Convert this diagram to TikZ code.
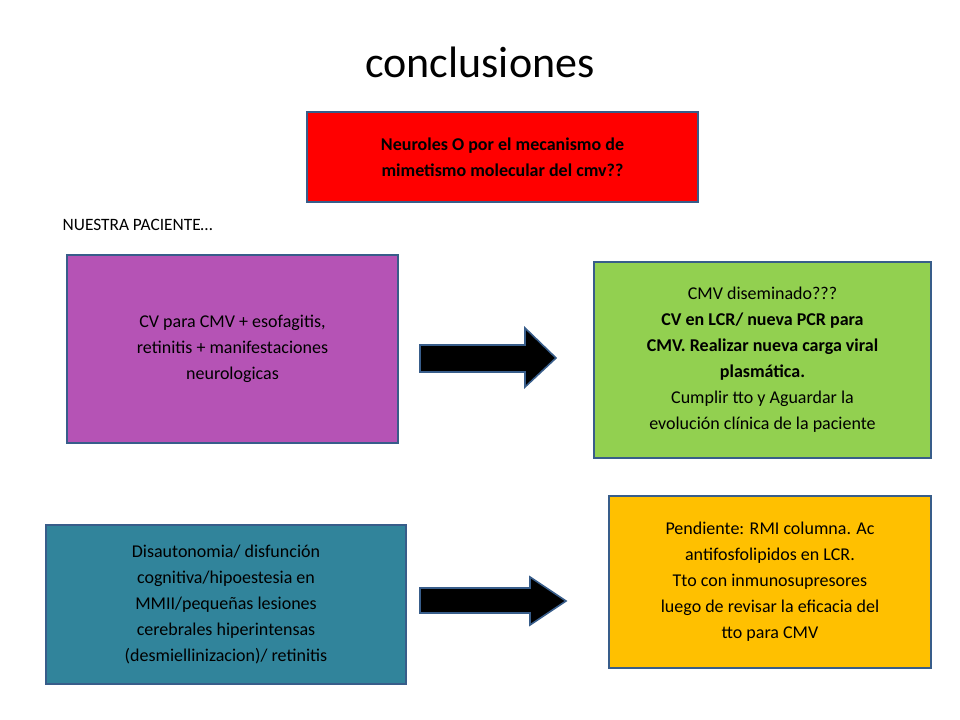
\documentclass[tikz,border=0pt]{standalone}
\usepackage{fontspec}
\setmainfont{Carlito}
\begin{document}
\begin{tikzpicture}[x=0.75pt,y=-0.75pt,
  bx/.style={draw=edge,line width=1.5pt,inner sep=4pt,align=center,font=\fontsize{13.5}{19.5}\selectfont},
  arr/.style={fill=black,draw=edge,line width=1.2pt}]
\definecolor{edge}{HTML}{385D8A}
\useasboundingbox (0,0) rectangle (960,720);
\node (title) at (480,62) {\fontsize{33}{36}\selectfont conclusiones};
\node[bx,fill=red,minimum width=391*0.75pt,minimum height=90*0.75pt,font=\bfseries\fontsize{13.5}{19.5}\selectfont] (red) at (502.5,157) {Neuroles O por el mecanismo de\\mimetismo molecular del cmv??};
\node[anchor=west,font=\fontsize{13}{16}\selectfont] (np) at (58,225) {NUESTRA PACIENTE…};
\node[bx,fill={rgb,255:red,181;green,83;blue,181},minimum width=331*0.75pt,minimum height=188*0.75pt] (pur) at (232.5,349) {CV para CMV + esofagitis,\\retinitis + manifestaciones\\neurologicas};
\node[bx,fill={rgb,255:red,146;green,208;blue,80},minimum width=337*0.75pt,minimum height=196*0.75pt] (grn) at (762.5,360) {CMV diseminado???\\\textbf{CV en LCR/ nueva PCR para}\\\textbf{CMV. Realizar nueva carga viral}\\\textbf{plasmática.}\\Cumplir tto y Aguardar la\\evolución clínica de la paciente};
\node[bx,fill={rgb,255:red,49;green,132;blue,155},minimum width=360*0.75pt,minimum height=159*0.75pt] (teal) at (226,604.5) {Disautonomia/ disfunción\\cognitiva/hipoestesia en\\MMII/pequeñas lesiones\\cerebrales hiperintensas\\(desmiellinizacion)/ retinitis};
\node[bx,fill={rgb,255:red,255;green,192;blue,0},minimum width=322*0.75pt,minimum height=172*0.75pt,anchor=north] (org) at (770,495) {Pendiente: RMI columna. Ac\\antifosfolipidos en LCR.\\Tto con inmunosupresores\\luego de revisar la eficacia del\\tto para CMV};
\draw[arr] (420,345) -- (525,345) -- (525,328) -- (556,358) -- (525,387) -- (525,372) -- (420,372) -- cycle;
\draw[arr] (420,588) -- (530,588) -- (530,577) -- (566,601) -- (530,625) -- (530,613) -- (420,613) -- cycle;
\end{tikzpicture}
\end{document}
